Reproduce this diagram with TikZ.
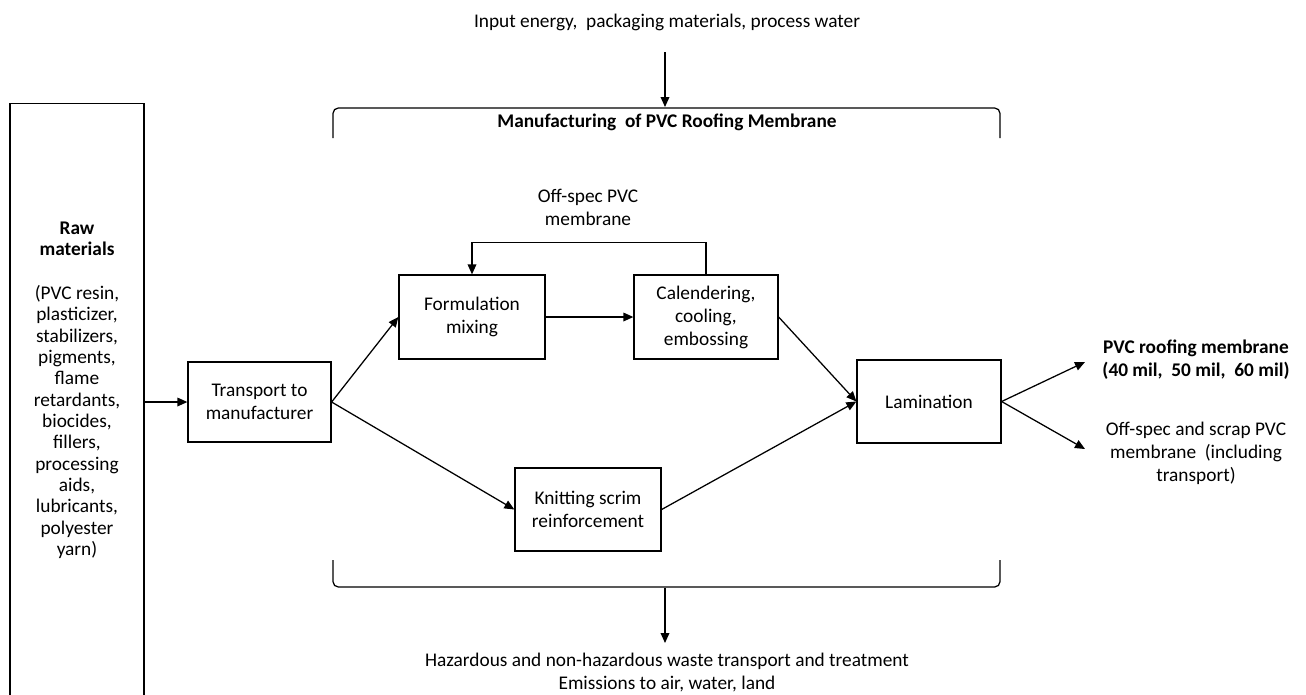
\documentclass[tikz,border=0pt]{standalone}
\usepackage{fontspec}
\setmainfont{Carlito}
\usetikzlibrary{arrows.meta}
\begin{document}
\begin{tikzpicture}[x=0.75pt,y=-0.75pt,
  every node/.style={font=\fontsize{14.5}{17.25}\selectfont},
  box/.style={draw,line width=0.95pt,align=center,inner sep=0pt},
  lbl/.style={align=center,inner sep=0pt},
  arr/.style={line width=0.95pt,-{Triangle[length=7.5pt,width=6.5pt]}},
  ln/.style={line width=0.95pt}]
\useasboundingbox (0,0) rectangle (1306,694);
% raw materials box (runs past the bottom edge)
\node[box,minimum width=100.5pt,minimum height=460pt] (raw) at (77,410) {};
\node[lbl,font=\fontsize{14.5}{16}\selectfont] (rawtxt) at (77,390) {\textbf{Raw}\\\textbf{materials}\\[17pt](PVC resin,\\plasticizer,\\stabilizers,\\pigments,\\flame\\retardants,\\biocides,\\fillers,\\processing\\aids,\\lubricants,\\polyester\\yarn)};
% process boxes
\node[box,minimum width=107.25pt,minimum height=60pt] (transport) at (259.5,402) {Transport to\\manufacturer};
\node[box,minimum width=109.5pt,minimum height=63pt] (form) at (472,317) {Formulation\\mixing};
\node[box,minimum width=108pt,minimum height=63pt] (cal) at (706,317) {Calendering,\\cooling,\\embossing};
\node[box,minimum width=109.5pt,minimum height=62.25pt] (knit) at (588,509.5) {Knitting scrim\\reinforcement};
\node[box,minimum width=108pt,minimum height=62.25pt] (lam) at (929,401.5) {Lamination};
% labels
\node[lbl] (topin) at (667,22) {Input energy,\ \ packaging materials, process water};
\node[lbl] (title) at (667,122) {\textbf{Manufacturing\ \ of PVC Roofing Membrane}};
\node[lbl] (offspec) at (588,207) {Off-spec PVC\\membrane};
\node[lbl] (out1) at (1196,360) {\textbf{PVC roofing membrane}\\\textbf{(40 mil,\ \ 50 mil,\ \ 60 mil)}};
\node[lbl] (out2) at (1196,453) {Off-spec and scrap PVC\\membrane\ \ (including\\transport)};
\node[lbl] (bottom) at (667,673) {Hazardous and non-hazardous waste transport and treatment\\Emissions to air, water, land};
% brackets
\draw[ln,rounded corners=4pt] (333,138) -- (333,108) -- (1000,108) -- (1000,138);
\draw[ln,rounded corners=4pt] (333,560) -- (333,587) -- (1000,587) -- (1000,560);
\coordinate (tin) at (665,52);
\coordinate (btop) at (665,107);
\coordinate (bbot) at (665,588);
\coordinate (bout) at (665,643);
\coordinate (o1) at (1085,362);
\coordinate (o2) at (1085,449);
% connectors
\draw[arr] (tin) -- (btop);
\draw[arr] (bbot) -- (bout);
\draw[arr] (raw.east |- transport.west) -- (transport.west);
\draw[arr] (transport.east) -- (form.west);
\draw[arr] (transport.east) -- (knit.west);
\draw[arr] (form.east) -- (cal.west);
\draw[arr] (cal.north) -- ++(0,-32) -| (form.north);
\draw[arr] (cal.east) -- (lam.west);
\draw[arr] (knit.east) -- (lam.west);
\draw[arr] (lam.east) -- (o1);
\draw[arr] (lam.east) -- (o2);
\end{tikzpicture}
\end{document}
